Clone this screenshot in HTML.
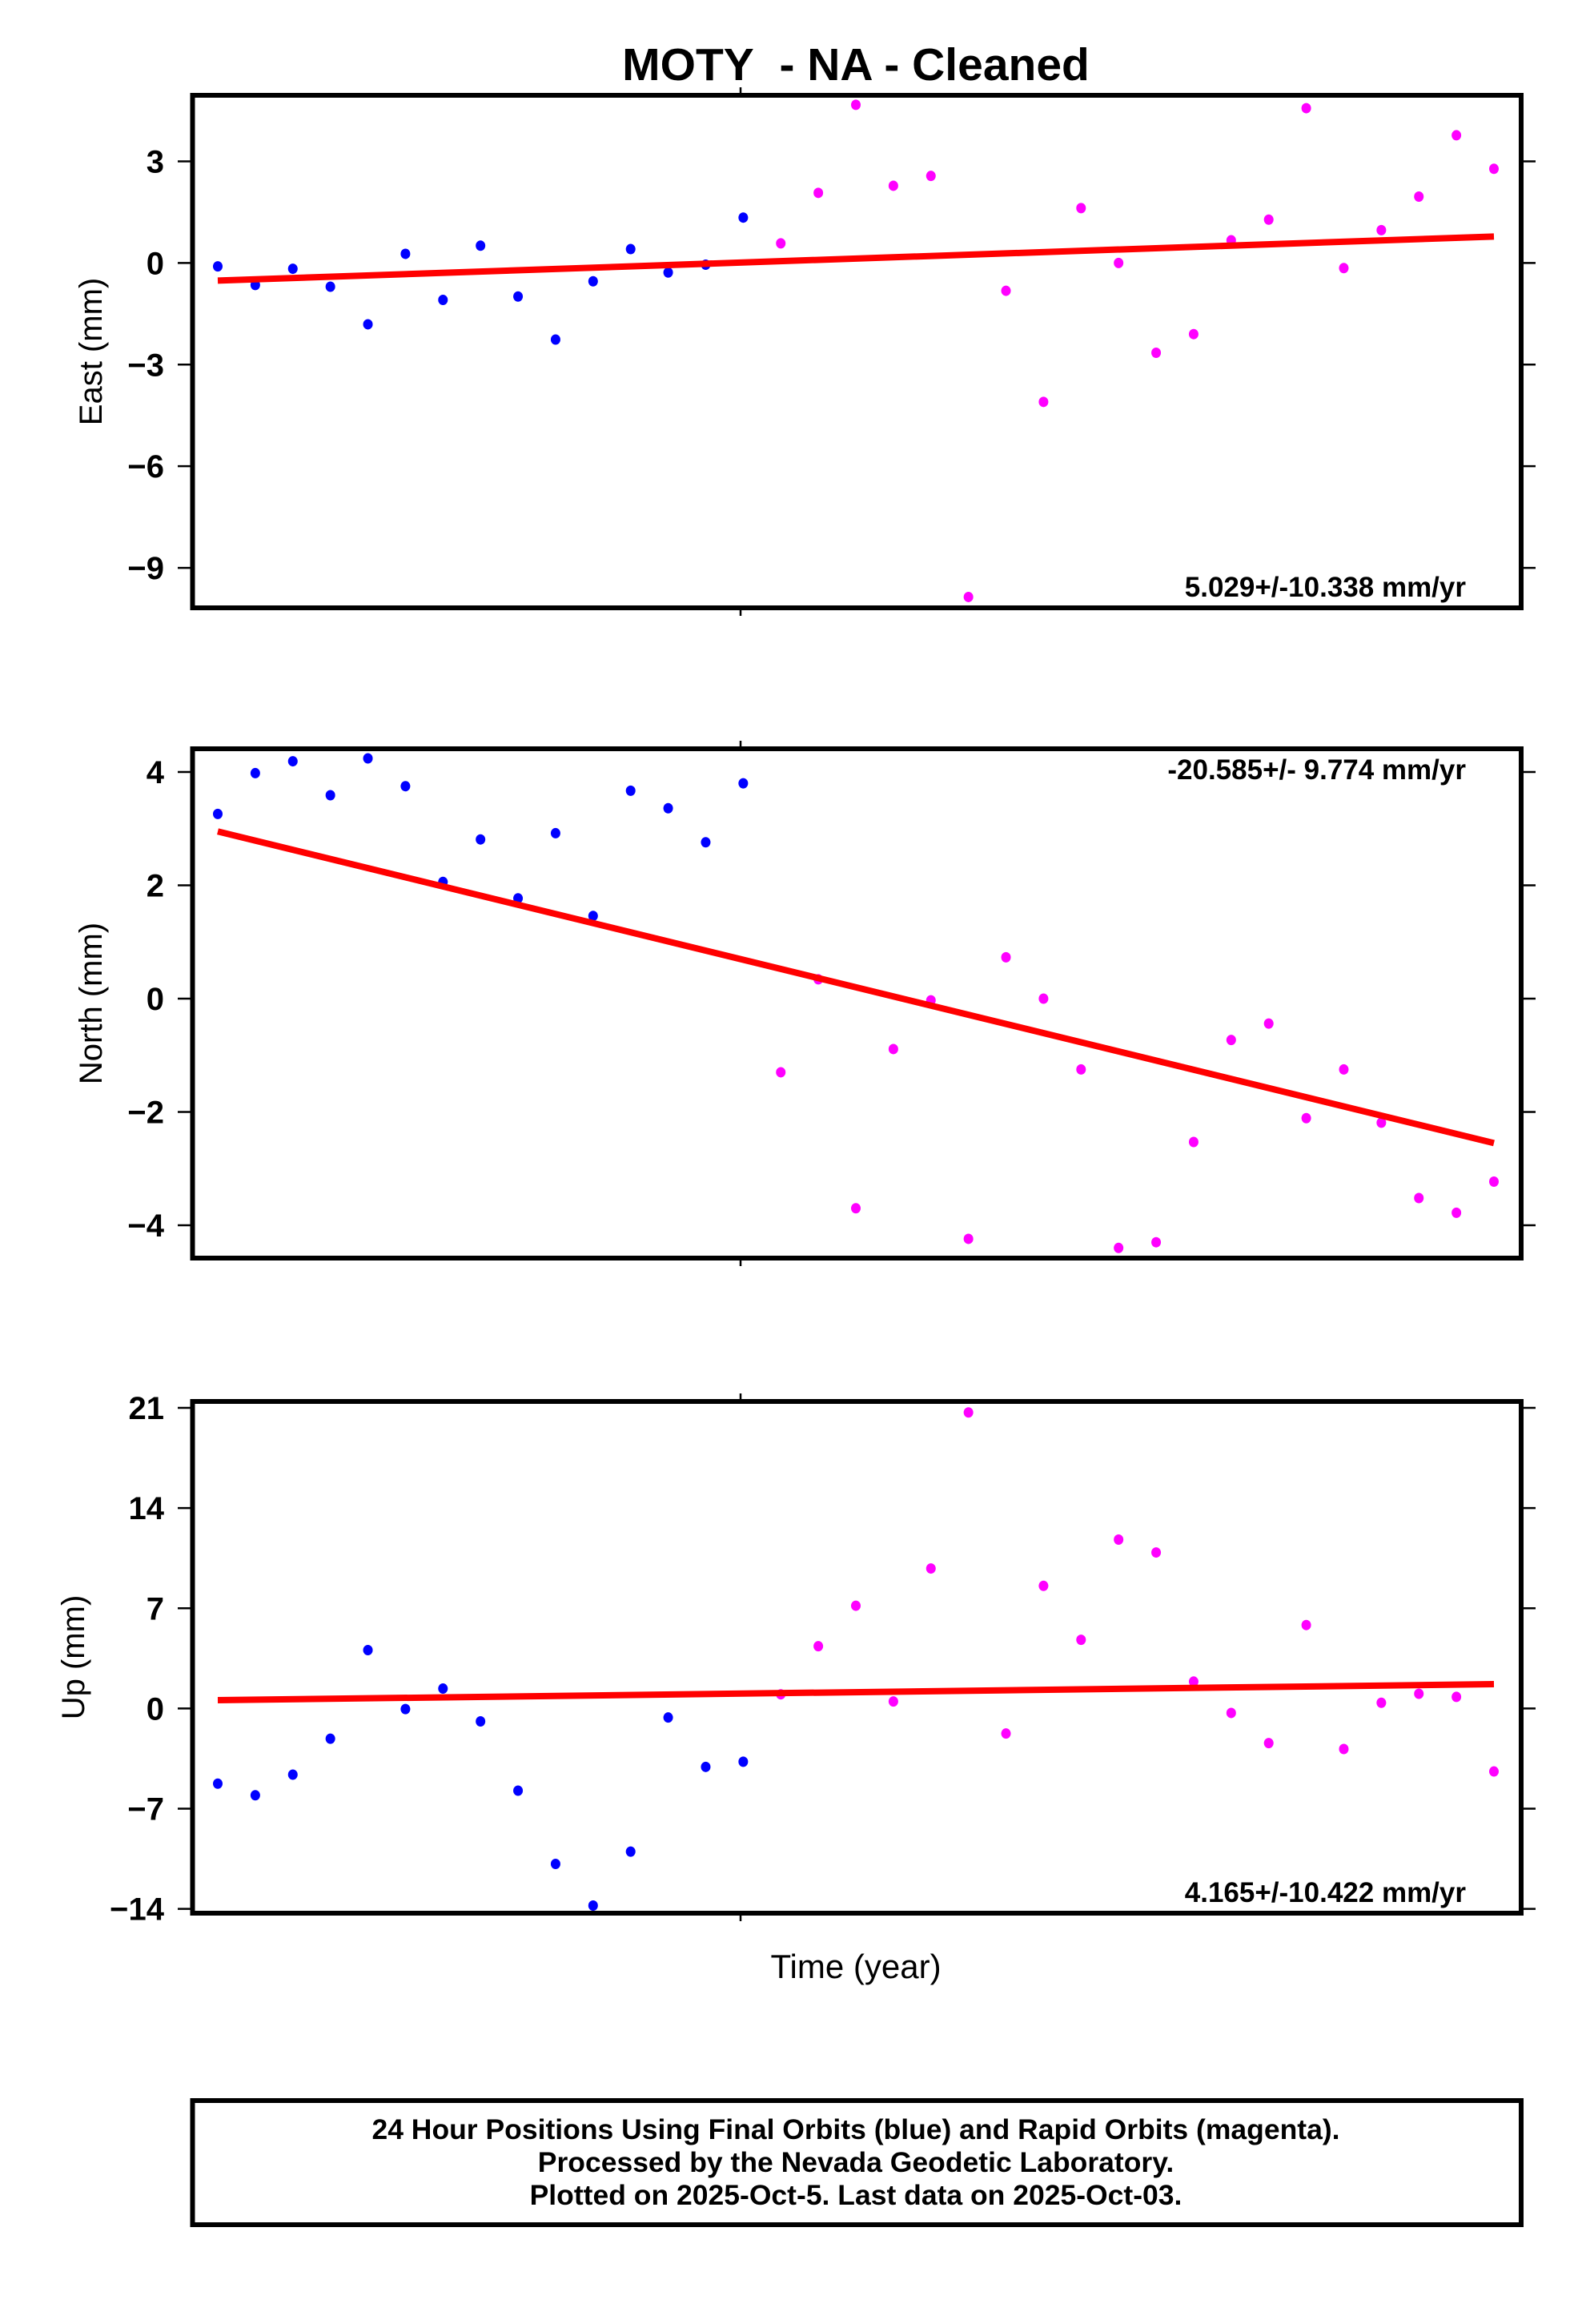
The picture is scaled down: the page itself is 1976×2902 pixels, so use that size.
<!DOCTYPE html>
<html><head><meta charset="utf-8"><style>
html,body{margin:0;padding:0;background:#fff;}
svg{display:block;}
text{font-family:"Liberation Sans",Arial,sans-serif;}
</style></head><body>
<svg id="chart" width="1976" height="2902" viewBox="0 0 1976 2902" xmlns="http://www.w3.org/2000/svg">
<rect x="0" y="0" width="1976" height="2902" fill="#fff"/>
<text x="1069" y="100" font-size="57" font-weight="bold" text-anchor="middle">MOTY&#160; - NA - Cleaned</text>
<text x="1069" y="2470" font-size="42" text-anchor="middle">Time (year)</text>
<rect x="240.5" y="2623" width="1659.5" height="155" fill="none" stroke="#000" stroke-width="6"/>
<text x="1069" y="2671" font-size="35.5" font-weight="bold" text-anchor="middle">24 Hour Positions Using Final Orbits (blue) and Rapid Orbits (magenta).</text>
<text x="1069" y="2712" font-size="35.5" font-weight="bold" text-anchor="middle">Processed by the Nevada Geodetic Laboratory.</text>
<text x="1069" y="2753" font-size="35.5" font-weight="bold" text-anchor="middle">Plotted on 2025-Oct-5. Last data on 2025-Oct-03.</text>
</svg>
<script>
const NFINAL = 15;
const eastValues = [-0.1,-0.65,-0.17,-0.7,-1.81,0.27,-1.09,0.51,-0.99,-2.26,-0.54,0.41,-0.28,-0.05,1.34,0.58,2.07,4.67,2.28,2.57,-9.86,-0.82,-4.1,1.62,0,-2.65,-2.1,0.67,1.28,4.57,-0.15,0.97,1.96,3.77,2.78];
const northValues = [3.26,3.98,4.19,3.59,4.24,3.75,2.06,2.81,1.77,2.92,1.46,3.67,3.36,2.76,3.8,-1.3,0.34,-3.7,-0.89,-0.03,-4.24,0.73,0,-1.25,-4.4,-4.3,-2.53,-0.73,-0.44,-2.11,-1.25,-2.19,-3.52,-3.78,-3.23];
const upValues = [-5.25,-6.06,-4.62,-2.11,4.08,-0.04,1.39,-0.9,-5.74,-10.86,-13.77,-10.0,-0.63,-4.08,-3.72,0.99,4.35,7.18,0.49,9.78,20.68,-1.75,8.57,4.8,11.8,10.9,1.88,-0.31,-2.42,5.83,-2.83,0.4,1.03,0.81,-4.4];
const eastTrend = [-0.52, 0.78];
const northTrend = [2.95, -2.55];
const upTrend = [0.58, 1.7];
const eastTicks = [3,0,-3,-6,-9];
const northTicks = [4,2,0,-2,-4];
const upTicks = [21,14,7,0,-7,-14];
const rateLabels = ["5.029+/-10.338 mm/yr","-20.585+/- 9.774 mm/yr","4.165+/-10.422 mm/yr"];
const yTitles = ["East (mm)","North (mm)","Up (mm)"];

const svg = document.getElementById('chart');
const NS = 'http://www.w3.org/2000/svg';
const X0 = 240.5, X1 = 1900, PX0 = 272, PX1 = 1866;
function xs(i, n){ return PX0 + (PX1 - PX0) * i / (n - 1); }
function mk(tag, attrs){ const e = document.createElementNS(NS, tag); for (const k in attrs) e.setAttribute(k, attrs[k]); return e; }

const panels = [
  {name:'east', top:119, bottom:759, vmax:4.95, vmin:-10.18, vals:eastValues, trend:eastTrend, ticks:eastTicks, rateTop:false, titleX:113},
  {name:'north', top:935, bottom:1571, vmax:4.41, vmin:-4.58, vals:northValues, trend:northTrend, ticks:northTicks, rateTop:true, titleX:113},
  {name:'up', top:1750, bottom:2389, vmax:21.45, vmin:-14.3, vals:upValues, trend:upTrend, ticks:upTicks, rateTop:false, titleX:91}
];

panels.forEach((p, pi) => {
  const g = mk('g', {});
  
  
  svg.appendChild(g);
  const ys = v => p.top + (p.vmax - v) / (p.vmax - p.vmin) * (p.bottom - p.top);
  p.ticks.forEach(t => {
    const y = ys(t);
    const tl = mk('line', {x1:222, y1:y, x2:X0, y2:y, stroke:'#000', 'stroke-width':2.5});
    
    
    g.appendChild(tl);
    const tr = mk('line', {x1:X1, y1:y, x2:1918, y2:y, stroke:'#000', 'stroke-width':2.5});
    
    
    g.appendChild(tr);
    const lab = mk('text', {x:205, y:y + 14, 'font-size':40, 'font-weight':'bold', 'text-anchor':'end'});
    
    
    lab.textContent = t < 0 ? '\u2212' + Math.abs(t) : String(t);
    g.appendChild(lab);
  });
  [[p.top - 10, p.top], [p.bottom, p.bottom + 10]].forEach(([a, b]) => {
    const xt = mk('line', {x1:925, y1:a, x2:925, y2:b, stroke:'#000', 'stroke-width':2.5});
    
    
    g.appendChild(xt);
  });
  const cy = (p.top + p.bottom) / 2;
  const yt = mk('text', {x:p.titleX, y:cy, 'font-size':40, 'text-anchor':'middle', transform:'rotate(-90 ' + p.titleX + ' ' + cy + ')', dy:14});
  
  
  yt.textContent = yTitles[pi];
  g.appendChild(yt);
  p.vals.forEach((v, i) => {
    const c = mk('ellipse', {cx:xs(i, p.vals.length), cy:ys(v), rx:6, ry:6.5, fill: i < NFINAL ? '#0000ff' : '#ff00ff'});
    
    
    g.appendChild(c);
  });
  const tline = mk('line', {x1:xs(0, p.vals.length), y1:ys(p.trend[0]), x2:xs(p.vals.length - 1, p.vals.length), y2:ys(p.trend[1]), stroke:'#ff0000', 'stroke-width':8});
  
  
  g.appendChild(tline);
  const fr = mk('rect', {x:X0, y:p.top, width:X1 - X0, height:p.bottom - p.top, fill:'none', stroke:'#000', 'stroke-width':6});
  
  
  g.appendChild(fr);
  const rl = mk('text', {x:1831, y: p.rateTop ? p.top + 38 : p.bottom - 14, 'font-size':35, 'font-weight':'bold', 'text-anchor':'end'});
  
  
  rl.textContent = rateLabels[pi];
  g.appendChild(rl);
});
</script>
</body></html>
